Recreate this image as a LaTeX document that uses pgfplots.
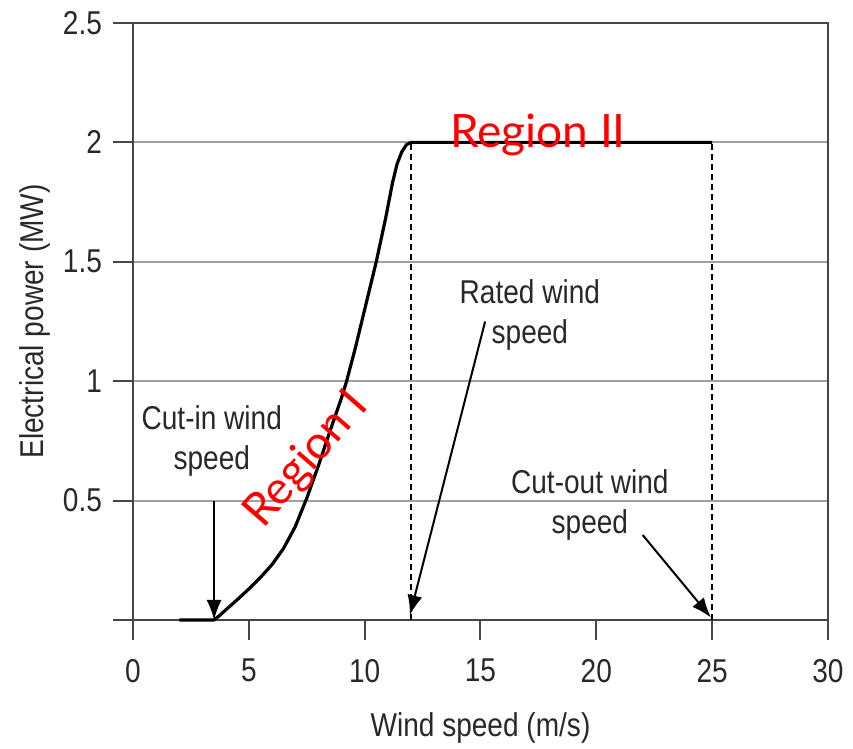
\documentclass[border=0pt]{standalone}
\usepackage{fontspec}
\setmainfont{Liberation Sans}[FakeStretch=0.85]
\newfontfamily\redfont{Lato}
\usepackage{pgfplots}
\pgfplotsset{compat=1.18}
\usetikzlibrary{arrows.meta}
\definecolor{axisgray}{RGB}{70,70,70}
\definecolor{gridgray}{RGB}{160,160,160}
\definecolor{textgray}{RGB}{40,40,40}
\begin{document}
\begin{tikzpicture}
\begin{axis}[
  scale only axis,
  width=347.5pt, height=298.5pt,
  xmin=0, xmax=30, ymin=0, ymax=2.5,
  xtick={0,5,10,15,20,25,30},
  xticklabels={0,5,10,15,20,25,30},
  ytick={0,0.5,1,1.5,2,2.5},
  yticklabels={,0.5,1,1.5,2,2.5},
  /pgf/number format/assume math mode=true,
  tick pos=left,
  tick align=outside,
  major tick length=10pt,
  every tick/.style={axisgray, line width=1pt},
  axis line style={axisgray, line width=1pt},
  ymajorgrids,
  grid style={gridgray, line width=1pt},
  tick label style={font=\fontsize{16.5}{20}\selectfont, text=textgray},
  xticklabel style={anchor=north, yshift=-6pt},
  yticklabel style={anchor=east, xshift=-2pt},
  xlabel={Wind speed (m/s)},
  ylabel={Electrical power (MW)},
  every axis x label/.style={at={(axis description cs:0.5,-0.1809)}, anchor=center, font=\fontsize{16.5}{20}\selectfont, text=textgray},
  every axis y label/.style={at={(axis description cs:-0.141,0.5)}, rotate=90, anchor=center, font=\fontsize{16.5}{20}\selectfont, text=textgray},
  clip=false,
]
% dashed verticals
\addplot[black, line width=1pt, dash pattern=on 3pt off 2pt] coordinates {(12,0) (12,2)};
\addplot[black, line width=1pt, dash pattern=on 3pt off 2pt] coordinates {(25,0) (25,2)};
% power curve
\addplot[black, line width=1.6pt, line join=round] coordinates {
 (2,0) (3.5,0) (3.75,0.02) (4,0.042) (4.5,0.085) (5,0.13) (5.5,0.178)
 (6,0.232) (6.5,0.3) (7,0.39) (7.5,0.51) (8,0.645) (8.5,0.79) (9,0.93)
 (9.22,1.0) (9.6,1.14) (10.05,1.32) (10.5,1.5) (10.9,1.68) (11.2,1.83)
 (11.4,1.91) (11.6,1.96) (11.8,1.99) (12.0,2.0) (25,2.0)
};
% annotations
\node[align=center, font=\fontsize{16.5}{20}\selectfont, text=textgray] at (axis cs:3.4,0.75) {Cut-in wind\\speed};
\node[align=center, font=\fontsize{16.5}{20}\selectfont, text=textgray] at (axis cs:17.13,1.276) {Rated wind\\speed};
\node[align=center, font=\fontsize{16.5}{20}\selectfont, text=textgray] at (axis cs:19.72,0.48) {Cut-out wind\\speed};
\draw[black, line width=1pt, -{Latex[length=10pt,width=7.5pt]}] (axis cs:3.5,0.5) -- (axis cs:3.5,0.0);
\draw[black, line width=1pt, -{Latex[length=10pt,width=7.5pt]}] (axis cs:15.2,1.25) -- (axis cs:11.95,0.02);
\draw[black, line width=1pt, -{Latex[length=10pt,width=7.5pt]}] (axis cs:22.0,0.356) -- (axis cs:24.95,0.01);
\node[red, font=\redfont\fontsize{23}{26}\selectfont, anchor=base] at (axis cs:17.48,1.98) {Region II};
\node[red, font=\redfont\fontsize{23}{26}\selectfont, rotate=49] at (axis cs:7.51,0.67) {Region I};
\end{axis}
\pgfresetboundingbox
\path (-66.5pt,-64.5pt) rectangle (360pt,310pt);
\end{tikzpicture}
\end{document}
